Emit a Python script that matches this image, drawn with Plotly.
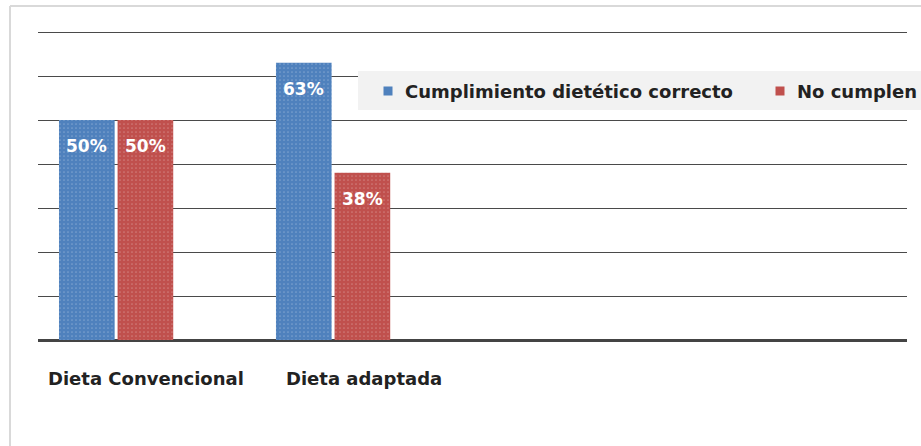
import plotly.graph_objects as go

categories = ["Dieta Convencional", "Dieta adaptada"]
series_names = ["Cumplimiento dietético correcto", "No cumplen"]
cumplen = [50, 63]
no_cumplen = [50, 38]
labels_cumplen = ["50%", "63%"]
labels_no = ["50%", "38%"]
y_ticks = [0, 10, 20, 30, 40, 50, 60, 70]

W, H = 921, 446
L, R, T, B = 38, 14, 30, 106
pw, ph = W - L - R, H - T - B

blue = "#4f81bd"
red = "#c0504d"
FONT = "DejaVu Sans"

fig = go.Figure()
for name, vals, col in [(series_names[0], cumplen, blue), (series_names[1], no_cumplen, red)]:
    fig.add_trace(go.Bar(
        x=categories, y=vals, name=name,
        marker=dict(color=col, line=dict(width=0),
                    pattern=dict(shape=".", fgcolor="rgba(255,255,255,0.5)",
                                 size=4, solidity=0.15)),
        hoverinfo="skip", showlegend=False,
    ))

# data labels
for vals, labs, shift in [(cumplen, labels_cumplen, -29.5), (no_cumplen, labels_no, 29.5)]:
    for c, v, t in zip(categories, vals, labs):
        fig.add_annotation(x=c, y=v, xref="x", yref="y", text=t, showarrow=False,
                           xshift=shift, yshift=-26, yanchor="middle",
                           font=dict(size=17, color="white", family=FONT, weight="bold"))

# category labels below axis
for i, c in enumerate(categories):
    fig.add_annotation(x=c, y=0, xref="x", yref="y", text=c, showarrow=False,
                       yshift=-38, xshift=[30, 31][i], yanchor="middle",
                       font=dict(size=18, color="#222", family=FONT, weight="bold"))

def px(x):
    return (x - L) / pw

def py(y):
    return (H - B - y) / ph

shapes = [
    dict(type="line", xref="paper", yref="paper", x0=px(10), x1=px(10), y0=py(6), y1=py(450),
         line=dict(color="#d9d9d9", width=2)),
    dict(type="line", xref="paper", yref="paper", x0=px(10), x1=px(925), y0=py(6), y1=py(6),
         line=dict(color="#d9d9d9", width=2)),
    # legend box
    dict(type="rect", xref="paper", yref="paper", x0=px(358), x1=px(925), y0=py(110), y1=py(71),
         fillcolor="#f2f2f2", line=dict(width=0), layer="above"),
]
# legend markers and texts
leg = [(series_names[0], blue, 388, 403), (series_names[1], red, 780, 795)]
for name, col, mx, tx in leg:
    shapes.append(dict(type="rect", xref="paper", yref="paper",
                       x0=px(mx - 4.5), x1=px(mx + 4.5), y0=py(95.5), y1=py(86.5),
                       fillcolor=col, line=dict(width=0), layer="above"))
    fig.add_annotation(x=px(tx), y=py(91), xref="paper", yref="paper", text=name,
                       showarrow=False, xanchor="left", yanchor="middle",
                       font=dict(size=18, color="#222", family=FONT, weight="bold"))

fig.update_layout(
    width=W, height=H, margin=dict(l=L, r=R, t=T, b=B),
    paper_bgcolor="white", plot_bgcolor="white",
    barmode="group", bargap=0.46, bargroupgap=0.05,
    shapes=shapes,
    showlegend=False,
    xaxis=dict(range=[-0.36, 3.645], showticklabels=False, showgrid=False, zeroline=False,
               showline=False, ticks=""),
    yaxis=dict(range=[0, 310 / 4.4], tickvals=y_ticks, showticklabels=False, showgrid=True,
               gridcolor="#4a4a4a", gridwidth=1.3, zeroline=True, zerolinecolor="#444",
               zerolinewidth=3, showline=False, ticks=""),
)
fig.write_html("out.html", config={"displayModeBar": False},
               post_script="document.body.style.margin='0';document.body.style.overflow='hidden';")
